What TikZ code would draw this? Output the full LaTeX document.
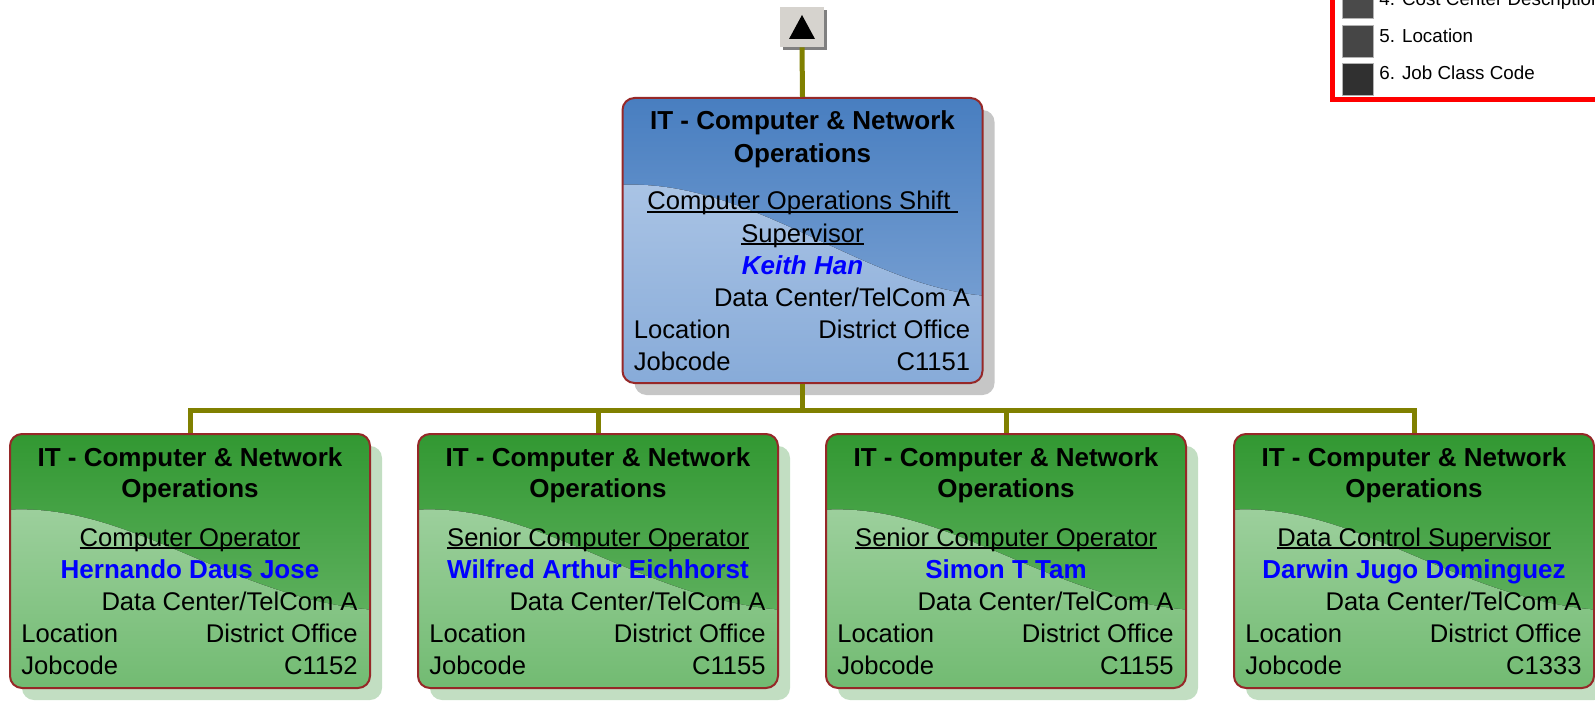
\documentclass[tikz,border=0pt]{standalone}
\usepackage{fontspec}
\setmainfont{Liberation Sans}
\usetikzlibrary{shadows}

\definecolor{linkolive}{RGB}{128,128,0}
\definecolor{boxedge}{RGB}{150,40,40}
\definecolor{bluetop}{RGB}{72,126,192}
\definecolor{bluelow}{RGB}{134,170,216}
\definecolor{bluelight}{RGB}{184,206,234}
\definecolor{greentop}{RGB}{50,152,50}
\definecolor{greenlow}{RGB}{112,186,112}
\definecolor{greenlight}{RGB}{174,216,174}
\definecolor{greyshadow}{RGB}{198,198,198}
\definecolor{greenshadow}{RGB}{194,222,194}
\definecolor{nameblue}{RGB}{0,0,255}
\definecolor{btnface}{RGB}{214,211,206}
\definecolor{btnedge}{RGB}{128,128,128}
\definecolor{legendred}{RGB}{255,0,0}
\definecolor{swatchfour}{RGB}{74,74,74}
\definecolor{swatchfive}{RGB}{70,70,70}
\definecolor{swatchsix}{RGB}{48,48,48}

\newcommand\jobul[1]{\setbox0\hbox{#1}\rlap{\rule[-1.5pt]{\wd0}{1pt}}\box0}

\begin{document}
\begin{tikzpicture}[x=0.5pt,y=-0.5pt]
\tikzset{
  orgbox/.style={draw=boxedge, line width=1pt, rounded corners=6pt, minimum width=180pt, inner sep=0pt},
  % the swoosh is drawn round the centre of the box
  bluebox/.style={orgbox, minimum height=142.5pt, top color=bluetop, bottom color=bluelow,
    drop shadow={shadow xshift=6pt, shadow yshift=-6pt, fill=greyshadow, opacity=1},
    path picture={\fill[top color=bluelight, bottom color=bluelow, sharp corners]
      (-185,-55.5) .. controls (-50,-63) and (60,47) .. (185,55.5) -- (185,150) -- (-185,150) -- cycle;}},
  greenbox/.style={orgbox, minimum height=127pt, top color=greentop, bottom color=greenlow,
    drop shadow={shadow xshift=6pt, shadow yshift=-6pt, fill=greenshadow, opacity=1},
    path picture={\fill[top color=greenlight, bottom color=greenlow, sharp corners]
      (-185,-51) .. controls (-60,-60) and (40,38) .. (185,49) -- (185,135) -- (-185,135) -- cycle;}},
  btnbox/.style={fill=btnface, minimum width=22pt, minimum height=20pt, inner sep=0pt,
    drop shadow={shadow xshift=1.5pt, shadow yshift=-1.5pt, fill=btnedge, opacity=1}},
  ttl/.style={font=\fontsize{13pt}{15pt}\selectfont\bfseries, inner sep=0pt, anchor=base},
  txt/.style={font=\fontsize{12.8pt}{15pt}\selectfont, inner sep=0pt},
  who/.style={font=\fontsize{13pt}{15pt}\selectfont\bfseries, text=nameblue, inner sep=0pt, anchor=base},
  legtxt/.style={font=\fontsize{9.4pt}{11pt}\selectfont, inner sep=0pt, anchor=base west},
  link/.style={draw=linkolive, line width=2.5pt}
}
\useasboundingbox (0,0) rectangle (1595,701);
\clip (0,0) rectangle (1595,701);

% legend, cut by the edge
\draw[draw=legendred, line width=2.5pt, fill=white] (1332,-20) rectangle (1640,99.5);
\fill[swatchfour, draw=gray!60] (1342,-20) rectangle (1373,18);
\fill[swatchfive, draw=gray!60] (1342,25) rectangle (1373,57);
\fill[swatchsix, draw=gray!60] (1342,63) rectangle (1373,95);
\node[legtxt] (leg4) at (1379,6) {4. Cost Center Description};
\node[legtxt] (leg5) at (1379,43) {5. Location};
\node[legtxt] (leg6) at (1379,80) {6. Job Class Code};

% up button
\node[btnbox] (up) at (802,27) {};
\fill ([xshift=-6.5pt,yshift=-6pt]up.center) -- ([xshift=6.5pt,yshift=-6pt]up.center) -- ([yshift=6pt]up.center) -- cycle;

% supervisor
\node[bluebox] (top) at (802.5,240.5) {};
\node[ttl] (top-ttl1) at ([yshift=-16.25pt]top.north) {IT - Computer \& Network};
\node[ttl] (top-ttl2) at ([yshift=-32.75pt]top.north) {Operations};
\node[txt, anchor=base] (top-job1) at ([yshift=-56.25pt]top.north) {\jobul{Computer Operations Shift\ }};
\node[txt, anchor=base] (top-job2) at ([yshift=-72.5pt]top.north) {\jobul{Supervisor}};
\node[who, font=\fontsize{13pt}{15pt}\selectfont\bfseries\itshape] (top-who) at ([yshift=-88.75pt]top.north) {Keith Han};
\node[txt, anchor=base east] (top-cc) at ([xshift=-6.5pt,yshift=-104.5pt]top.north east) {Data Center/TelCom A};
\node[txt, anchor=base west] (top-locl) at ([xshift=6pt,yshift=-120.5pt]top.north west) {Location};
\node[txt, anchor=base east] (top-locr) at ([xshift=-6.5pt,yshift=-120.5pt]top.north east) {District Office};
\node[txt, anchor=base west] (top-codel) at ([xshift=6pt,yshift=-136.5pt]top.north west) {Jobcode};
\node[txt, anchor=base east] (top-coder) at ([xshift=-6.5pt,yshift=-136.5pt]top.north east) {C1151};

\draw[link] (up.south) -- (top.north);
\coordinate (bus) at ([yshift=-13.25pt]top.south);
\draw[link] (top.south) -- (bus);

% operators
\foreach \i/\cx/\job/\who/\code in {1/190/Computer Operator/Hernando Daus Jose/C1152,
    2/598/Senior Computer Operator/Wilfred Arthur Eichhorst/C1155,
    3/1006/Senior Computer Operator/Simon T Tam/C1155,
    4/1414/Data Control Supervisor/Darwin Jugo Dominguez/C1333}{
  \node[greenbox] (op\i) at (\cx,561) {};
  \node[ttl] (op\i-ttl1) at ([yshift=-16.5pt]op\i.north) {IT - Computer \& Network};
  \node[ttl] (op\i-ttl2) at ([yshift=-32.25pt]op\i.north) {Operations};
  \node[txt, anchor=base] (op\i-job) at ([yshift=-56.5pt]op\i.north) {\jobul{\job}};
  \node[who] (op\i-who) at ([yshift=-72.5pt]op\i.north) {\who};
  \node[txt, anchor=base east] (op\i-cc) at ([xshift=-6.5pt,yshift=-88.5pt]op\i.north east) {Data Center/TelCom A};
  \node[txt, anchor=base west] (op\i-locl) at ([xshift=6pt,yshift=-104.5pt]op\i.north west) {Location};
  \node[txt, anchor=base east] (op\i-locr) at ([xshift=-6.5pt,yshift=-104.5pt]op\i.north east) {District Office};
  \node[txt, anchor=base west] (op\i-codel) at ([xshift=6pt,yshift=-120.5pt]op\i.north west) {Jobcode};
  \node[txt, anchor=base east] (op\i-coder) at ([xshift=-6.5pt,yshift=-120.5pt]op\i.north east) {\code};
  \draw[link] (bus) -| (op\i.north);
}
\end{tikzpicture}
\end{document}
